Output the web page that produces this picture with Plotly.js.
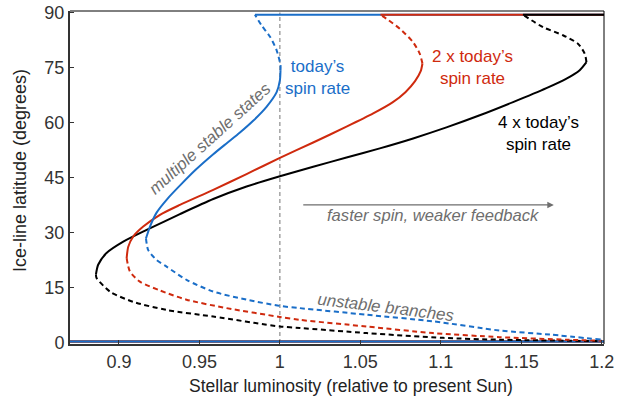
<!DOCTYPE html>
<html>
<head>
<meta charset="utf-8">
<script src="https://cdn.plot.ly/plotly-3.0.1.min.js"></script>
<style>html,body{margin:0;padding:0;background:#fff;}#chart{width:627px;height:396px;}</style>
</head>
<body>
<div id="chart"></div>
<script>
// ---- Data ----
// Stellar luminosity (relative to present Sun) / ice-line latitude (degrees)
const blueStableX = [0.9168, 0.9172, 0.9193, 0.9234, 0.9300, 0.9395, 0.9480, 0.9586, 0.9670, 0.9752, 0.9834, 0.9917, 0.9980, 1.0000, 1.0004];
const blueStableY = [28.5, 29.0, 31.7, 35.5, 39.2, 43.6, 47.3, 51.4, 54.4, 57.3, 60.5, 64.3, 68.3, 71.5, 74.3];
const blueUpperX = [1.0004, 1.0004, 0.9980, 0.9940, 0.9886, 0.9845];
const blueUpperY = [74.3, 75.6, 79.7, 83.3, 86.5, 89.4];
const blueLowerX = [0.9168, 0.9182, 0.9234, 0.9296, 0.9420, 0.9586, 0.9793, 1.0000, 1.0124, 1.0538, 1.0952, 1.1366, 1.1677, 1.2000];
const blueLowerY = [28.5, 25.3, 22.6, 20.8, 17.2, 14.0, 11.8, 10.1, 9.5, 7.7, 5.9, 3.4, 2.3, 0.9];

const redStableX = [0.9048, 0.9058, 0.9089, 0.9151, 0.9255, 0.9379, 0.9586, 0.9793, 1.0000, 1.0207, 1.0414, 1.0580, 1.0700, 1.0780, 1.0840, 1.0875, 1.0886];
const redStableY = [23.1, 26.2, 29.0, 31.7, 34.9, 37.6, 41.7, 46.0, 50.4, 54.6, 58.9, 62.5, 65.5, 68.3, 71.3, 74.0, 76.1];
const redUpperX = [1.0886, 1.0869, 1.0828, 1.0745, 1.0662, 1.0625];
const redUpperY = [76.1, 78.8, 81.9, 85.6, 88.3, 89.4];
const redLowerX = [0.9048, 0.9068, 0.9130, 0.9255, 0.9420, 0.9669, 1.0000, 1.0124, 1.0538, 1.0952, 1.1366, 1.1780, 1.2000];
const redLowerY = [23.1, 19.5, 16.7, 14.3, 11.8, 9.5, 7.1, 6.3, 4.5, 2.7, 1.6, 0.9, 0.6];

const blackStableX = [0.8857, 0.8871, 0.8923, 0.9027, 0.9172, 0.9379, 0.9586, 0.9793, 1.0000, 1.0207, 1.0414, 1.0621, 1.0828, 1.1035, 1.1242, 1.1449, 1.1656, 1.1781, 1.1863, 1.1905];
const blackStableY = [18.6, 21.3, 24.5, 27.6, 30.8, 35.1, 39.2, 42.6, 45.4, 48.0, 50.5, 53.0, 55.7, 58.7, 62.0, 65.6, 69.4, 72.0, 74.3, 76.5];
const blackUpperX = [1.1905, 1.1894, 1.1852, 1.1759, 1.1635, 1.1510];
const blackUpperY = [76.5, 78.8, 81.5, 83.8, 86.0, 89.4];
const blackLowerX = [0.8857, 0.8861, 0.8944, 0.9089, 0.9296, 0.9586, 1.0000, 1.0124, 1.0538, 1.1014, 1.1366, 1.2000];
const blackLowerY = [18.6, 17.7, 14.0, 11.2, 9.0, 7.2, 4.5, 4.1, 2.7, 1.4, 0.9, 0.5];

// stable ice-free (top) and ice-covered (bottom) states
const iceFreeStartX = {blue: 0.9845, red: 1.0625, black: 1.1510};
const iceFreeLat = 89.4;
const iceCoveredLat = 0.4;
const lumMin = 0.8696, lumMax = 1.2014;

const xTicks = [0.9, 0.95, 1, 1.05, 1.1, 1.15, 1.2];
const xTickText = ['0.9', '0.95', '1', '1.05', '1.1', '1.15', '1.2'];
const yTicks = [0, 15, 30, 45, 60, 75, 90];

// ---- Styles ----
const BLUE = '#1a6ec8', RED = '#cf2a0e', BLACK = '#000000';
const FONT = 'Liberation Sans, Arial, Helvetica, sans-serif';
const DASH = '5px,3.5px';
const LW = 2;

function line(x, y, color, dashed) {
  return {x: x, y: y, type: 'scatter', mode: 'lines', hoverinfo: 'skip',
    line: {color: color, width: LW, dash: dashed ? DASH : 'solid', shape: 'spline', smoothing: 0.7}};
}

const traces = [
  // ice-covered state (bottom)
  line([lumMin, lumMax], [iceCoveredLat, iceCoveredLat], BLACK, false),
  line([lumMin, lumMax], [iceCoveredLat, iceCoveredLat], RED, false),
  line([lumMin, lumMax], [iceCoveredLat, iceCoveredLat], BLUE, false),
  // ice-free state (top)
  line([iceFreeStartX.blue, lumMax], [iceFreeLat, iceFreeLat], BLUE, false),
  line([iceFreeStartX.red, lumMax], [iceFreeLat, iceFreeLat], RED, false),
  line([iceFreeStartX.black, lumMax], [iceFreeLat, iceFreeLat], BLACK, false),
  // branches
  line(blackLowerX, blackLowerY, BLACK, true),
  line(redLowerX, redLowerY, RED, true),
  line(blueLowerX, blueLowerY, BLUE, true),
  line(blackUpperX, blackUpperY, BLACK, true),
  line(redUpperX, redUpperY, RED, true),
  line(blueUpperX, blueUpperY, BLUE, true),
  line(blackStableX, blackStableY, BLACK, false),
  line(redStableX, redStableY, RED, false),
  line(blueStableX, blueStableY, BLUE, false)
];

const GRAY = '#6e6e6e';
const layout = {
  width: 627, height: 396,
  margin: {l: 70, r: 23, t: 11, b: 52},
  paper_bgcolor: '#fff', plot_bgcolor: '#fff',
  showlegend: false,
  font: {family: FONT, color: '#333', size: 17},
  xaxis: {
    range: [lumMin, lumMax], tickvals: xTicks, ticktext: xTickText,
    ticks: 'inside', ticklen: 4, tickwidth: 1, tickcolor: '#333',
    showline: true, linecolor: '#333', linewidth: 2, mirror: false,
    showgrid: false, zeroline: false,
    tickfont: {family: FONT, size: 18, color: '#333'}
  },
  yaxis: {
    range: [-0.27, 90.4], tickvals: yTicks,
    ticks: 'inside', ticklen: 4, tickwidth: 1, tickcolor: '#333',
    showline: true, linecolor: '#333', linewidth: 2, mirror: false,
    showgrid: false, zeroline: false,
    tickfont: {family: FONT, size: 18, color: '#333'}
  },
  shapes: [
    {type: 'line', xref: 'paper', yref: 'paper', x0: 0, x1: 1, y0: 1, y1: 1, line: {color: '#000', width: 1}},
    {type: 'line', xref: 'paper', yref: 'paper', x0: 1, x1: 1, y0: 0, y1: 1, line: {color: '#000', width: 1}},
    {type: 'line', xref: 'x', yref: 'y', x0: 1, x1: 1, y0: 0, y1: 90, layer: 'below',
     line: {color: '#8c8c8c', width: 1.2, dash: '4px,3px'}}
  ],
  annotations: [
    {text: 'Stellar luminosity (relative to present Sun)', xref: 'paper', yref: 'paper',
     x: (351 - 70) / (604.3 - 70), y: 0, yshift: -41.5, xanchor: 'center', yanchor: 'middle', showarrow: false,
     font: {family: FONT, size: 17.5, color: '#222'}},
    {text: 'Ice-line latitude (degrees)', xref: 'paper', yref: 'paper', textangle: -90,
     x: 0, xshift: -50, y: (344.3 - 171) / (344.3 - 10.7), xanchor: 'center', yanchor: 'middle', showarrow: false,
     font: {family: FONT, size: 18, color: '#222'}},
    {text: 'today\u2019s<br>spin rate', x: 1.0236, y: 72.4, showarrow: false,
     font: {family: FONT, size: 17, color: BLUE}},
    {text: '2 x today\u2019s<br>spin rate', x: 1.1196, y: 75.1, showarrow: false,
     font: {family: FONT, size: 17, color: RED}},
    {text: '4 x today\u2019s<br>spin rate', x: 1.161, y: 57.1, showarrow: false,
     font: {family: FONT, size: 17, color: BLACK}},
    {text: '<i>multiple stable states</i>', x: 0.9565, y: 55.8, textangle: -42, showarrow: false,
     font: {family: FONT, size: 16.8, color: GRAY}},
    {text: '<i>unstable branches</i>', x: 1.0662, y: 9.6, textangle: 7, showarrow: false,
     font: {family: FONT, size: 16.8, color: GRAY}},
    {text: '<i>faster spin, weaker feedback</i>', x: 1.095, y: 34.6, showarrow: false,
     font: {family: FONT, size: 16.6, color: GRAY}},
    {text: '', x: 1.1702, y: 37.6, ax: 1.0136, ay: 37.6, axref: 'x', ayref: 'y',
     showarrow: true, arrowhead: 2, arrowsize: 1, arrowwidth: 1.3, arrowcolor: GRAY}
  ]
};

Plotly.newPlot('chart', traces, layout, {staticPlot: true, displayModeBar: false});
</script>
</body>
</html>
